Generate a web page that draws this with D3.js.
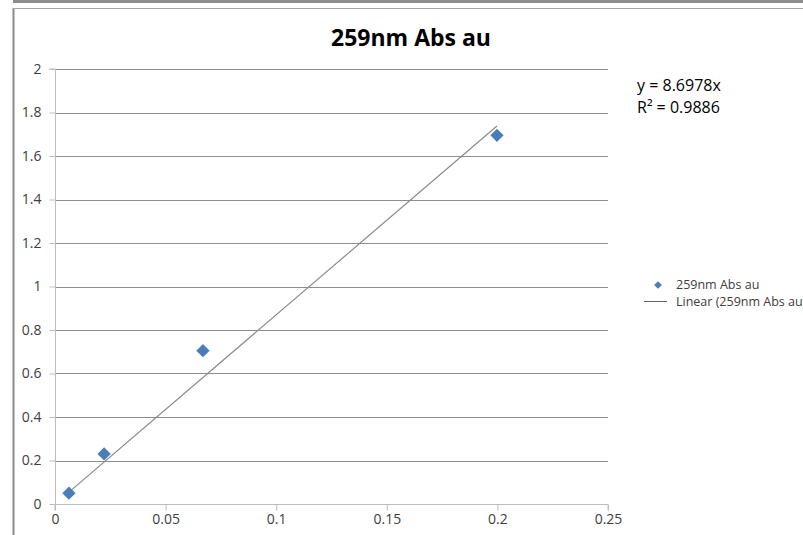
<!DOCTYPE html>
<html>
<head>
<meta charset="utf-8">
<script src="https://cdn.jsdelivr.net/npm/d3@7"></script>
<style>
  body { margin: 0; background: #fff; overflow: hidden; }
  svg { display: block; font-family: "Open Sans", "Liberation Sans", sans-serif; }
</style>
</head>
<body>
<script>
// data
var seriesName = "259nm Abs au";
var concValues = [0.0063, 0.0222, 0.0669, 0.1998];
var absValues = [0.05, 0.23, 0.705, 1.695];
var xTicks = [0, 0.05, 0.1, 0.15, 0.2, 0.25];
var yTicks = [0, 0.2, 0.4, 0.6, 0.8, 1, 1.2, 1.4, 1.6, 1.8, 2];
var slope = 8.6978;
var eqLines = ["y = 8.6978x", "R\u00b2 = 0.9886"];

var W = 803, H = 535;
var svg = d3.select("body").append("svg")
    .attr("width", W)
    .attr("height", H);

// top strip and outer frame
svg.append("rect").attr("x", 13).attr("y", 0).attr("width", W - 13).attr("height", 3).attr("fill", "#8c8c8c");
svg.append("line").attr("x1", 13.5).attr("x2", 13.5).attr("y1", 8).attr("y2", H).attr("stroke", "#8c8c8c").attr("stroke-width", 2);
svg.append("line").attr("x1", 13).attr("x2", W).attr("y1", 8.5).attr("y2", 8.5).attr("stroke", "#a6a6a6");

var x = d3.scaleLinear().domain([0, 0.25]).range([55, 608]);
var y = d3.scaleLinear().domain([0, 2]).range([504, 69]);

// gridlines
svg.append("g").selectAll("line")
    .data(yTicks.filter(function (d) { return d > 0; }))
    .enter().append("line")
    .attr("x1", x(0)).attr("x2", x(0.25))
    .attr("y1", function (d) { return Math.round(y(d)) + 0.5; })
    .attr("y2", function (d) { return Math.round(y(d)) + 0.5; })
    .attr("stroke", "#8e8e8e");

// axes
var xAxis = d3.axisBottom(x).tickValues(xTicks).tickSize(6).tickPadding(4)
    .tickFormat(function (d) { return String(+d.toFixed(2)); });
var gx = svg.append("g").attr("transform", "translate(0," + (Math.round(y(0)) + 0.5) + ")").call(xAxis);

var yAxis = d3.axisLeft(y).tickValues(yTicks).tickSize(6).tickPadding(8)
    .tickFormat(function (d) { return String(+d.toFixed(1)); });
var gy = svg.append("g").attr("transform", "translate(" + (Math.round(x(0)) + 0.5) + ",0)").call(yAxis);

[gx, gy].forEach(function (g) {
    g.select(".domain").attr("stroke", "#bdbdbd");
    g.selectAll(".tick line").attr("stroke", "#bdbdbd");
    g.selectAll(".tick text").attr("fill", "#404040").style("font-size", "14px")
        .style("font-family", "'Open Sans', sans-serif");
});
gx.select(".domain").attr("d", "M" + x(0) + ",6V0H" + x(0.25) + "V6");
gy.select(".domain").attr("d", "M-6," + y(2) + "H0V" + y(0));

// linear trendline through origin, drawn across the data range
var xMin = d3.min(concValues), xMax = d3.max(concValues);
svg.append("line")
    .attr("x1", x(xMin)).attr("y1", y(slope * xMin))
    .attr("x2", x(xMax)).attr("y2", y(slope * xMax))
    .attr("stroke", "#8a8a8a")
    .attr("stroke-width", 1.2);

// diamond markers
var diamond = d3.symbol().type(d3.symbolSquare).size(88);
svg.append("g").selectAll("path")
    .data(concValues)
    .enter().append("path")
    .attr("d", diamond)
    .attr("transform", function (d, i) {
        return "translate(" + x(d) + "," + y(absValues[i]) + ") rotate(45)";
    })
    .attr("fill", "#4a7ebb");

// title
svg.append("text")
    .attr("x", 411).attr("y", 46)
    .attr("text-anchor", "middle")
    .style("font-size", "23px")
    .style("font-weight", "bold")
    .attr("fill", "#000")
    .text(seriesName);

// trendline equation
svg.append("g").selectAll("text")
    .data(eqLines)
    .enter().append("text")
    .attr("x", 637)
    .attr("y", function (d, i) { return 91 + i * 22; })
    .style("font-size", "16px")
    .attr("fill", "#000")
    .text(function (d) { return d; });

// legend
var lg = svg.append("g");
lg.append("path")
    .attr("d", d3.symbol().type(d3.symbolSquare).size(30))
    .attr("transform", "translate(658,285) rotate(45)")
    .attr("fill", "#4a7ebb");
lg.append("text").attr("x", 676).attr("y", 289)
    .style("font-size", "12.5px").attr("fill", "#404040").text(seriesName);
lg.append("line").attr("x1", 644).attr("x2", 667).attr("y1", 301.5).attr("y2", 301.5)
    .attr("stroke", "#666");
lg.append("text").attr("x", 676).attr("y", 306)
    .style("font-size", "12.5px").attr("fill", "#404040").text("Linear (" + seriesName + ")");
</script>
</body>
</html>
